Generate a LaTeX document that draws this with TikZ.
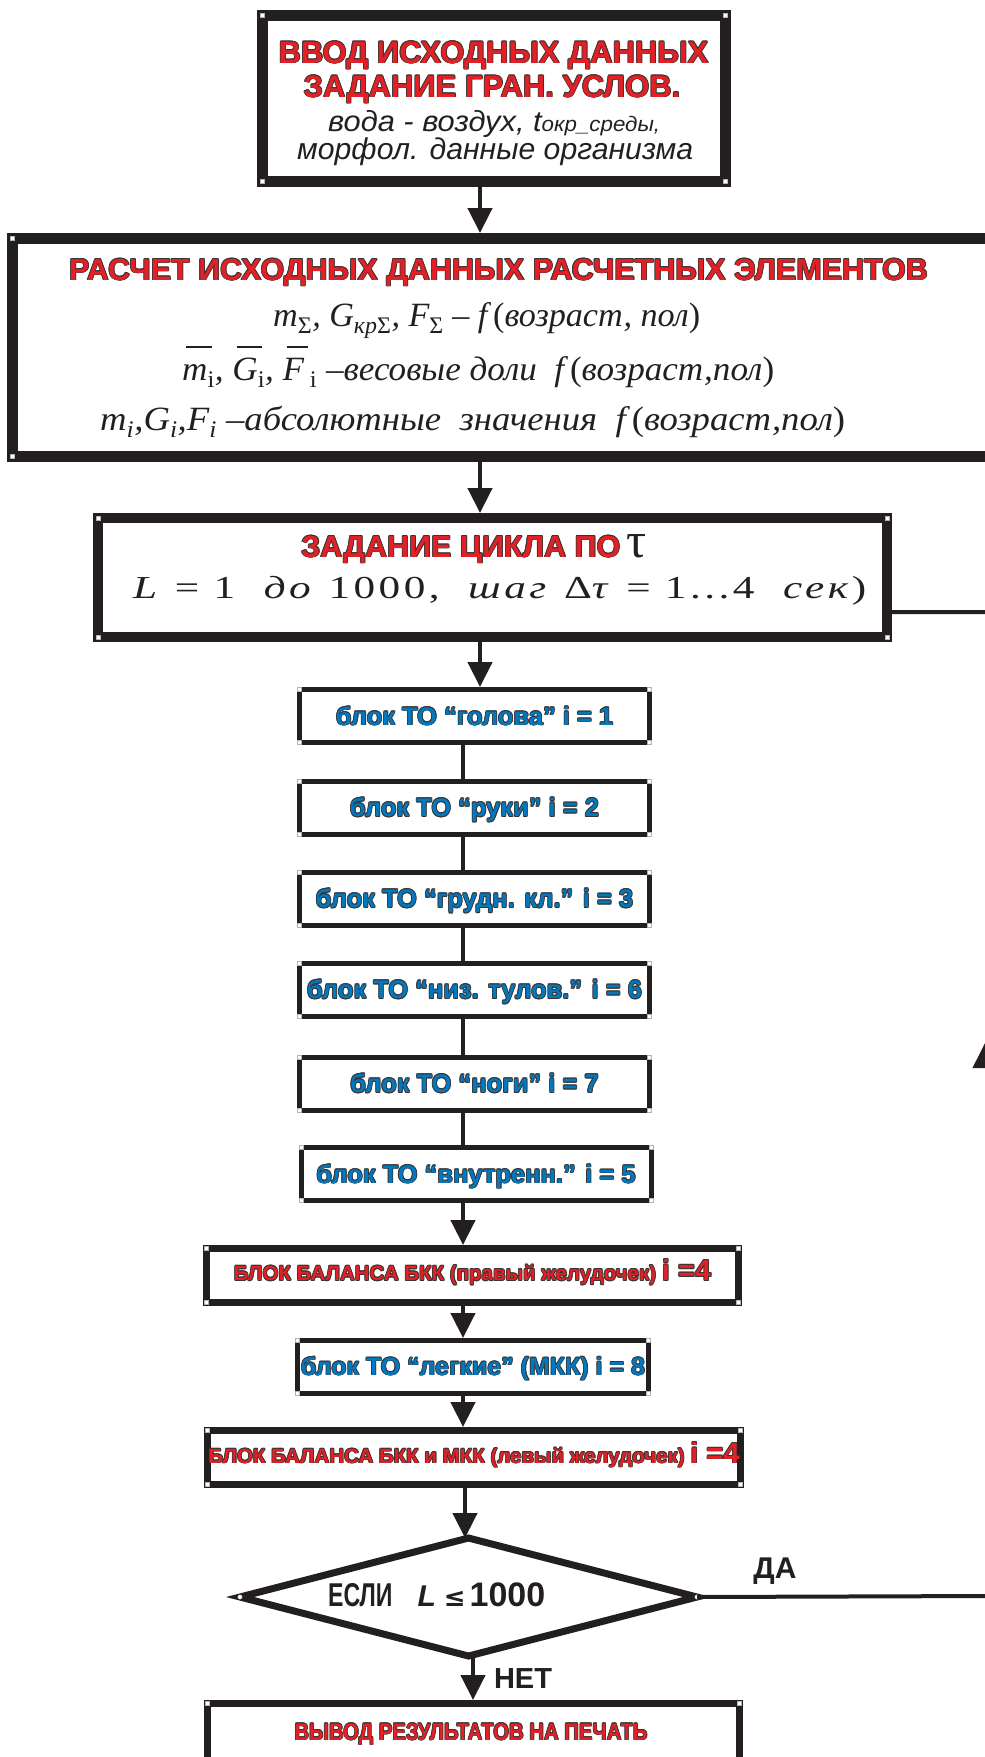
\documentclass[tikz,border=0pt]{standalone}
\usepackage{fontspec}
\usepackage{graphicx}
\setmainfont{Liberation Sans}
\newfontfamily\timesf{Liberation Serif}
\newfontfamily\dejavu{DejaVu Sans}
\usetikzlibrary{arrows.meta,shapes.geometric,decorations.markings}

\definecolor{ink}{RGB}{35,31,32}

\newsavebox\olbox
\newsavebox\fillbox
\newsavebox\fitbox
\newsavebox\barbox
\newdimen\olw \olw=0.8pt

% font size in px (1pt = 1px here)
\newcommand\setsz[1]{\fontsize{#1}{#1}\selectfont}

% letters filled with one colour and edged with another:
% #1 edge colour (hex), #2 fill colour (hex), #3 font, #4 text
\newcommand\outl[4]{%
  \begingroup
  \sbox\olbox{#3\addfontfeatures{Color=#1}#4}%
  \sbox\fillbox{#3\addfontfeatures{Color=#2}#4}%
  \leavevmode
  \rlap{%
    \rlap{\kern\olw\copy\olbox}%
    \rlap{\kern-\olw\copy\olbox}%
    \rlap{\raise\olw\copy\olbox}%
    \rlap{\lower\olw\copy\olbox}%
    \rlap{\kern.7\olw\raise.7\olw\copy\olbox}%
    \rlap{\kern.7\olw\lower.7\olw\copy\olbox}%
    \rlap{\kern-.7\olw\raise.7\olw\copy\olbox}%
    \rlap{\kern-.7\olw\lower.7\olw\copy\olbox}}%
  \usebox\fillbox
  \endgroup}
\newcommand\redtxt[2]{\outl{3A3434}{E22026}{#1}{#2}}
\newcommand\bluetxt[2]{\outl{3A3434}{0079C1}{#1}{#2}}

% stretch a line horizontally to a given width (in pt)
\newcommand\fitto[2]{%
  \sbox\fitbox{#2}%
  \pgfmathsetmacro\fitratio{#1/\the\wd\fitbox}%
  \scalebox{\fitratio}[1]{\usebox\fitbox}}

% letter with a raised bar
\newcommand\ovl[1]{%
  \sbox\barbox{#1}%
  \leavevmode
  \rlap{\kern0.12em\raise0.95em\hbox{\vrule width\wd\barbox height 1.3pt depth 0pt}}%
  \usebox\barbox}

% small white corner marks of a box
\newcommand\handles[2]{%
  \foreach \an/\sx/\sy in {north west/1/1,north east/-1/1,south west/1/-1,south east/-1/-1}{%
    \filldraw[fill=white,draw=gray!60,line width=0.4pt]
      ([shift={(\sx*#2,\sy*#2)}]#1.\an) ++(-2,-2) rectangle ++(4,4);}}

\begin{document}
\begin{tikzpicture}[x=1pt,y=-1pt,
  bigbox/.style={draw=ink, line width=11pt, inner sep=0pt},
  midbox/.style={draw=ink, line width=7pt, inner sep=0pt},
  smallbox/.style={draw=ink, line width=5pt, inner sep=0pt,
    minimum width=350pt, minimum height=53pt,
    text height=22pt, text depth=4pt},
  decision/.style={diamond, draw=ink, line width=7pt, aspect=3.87,
    minimum width=457pt, minimum height=118pt, inner sep=0pt, outer sep=0pt},
  txt/.style={anchor=base, inner sep=0pt, text=ink},
  txtw/.style={anchor=base west, inner sep=0pt, text=ink},
  conn/.style={draw=ink, line width=4.5pt},
  arr/.style={conn, -{Triangle[width=24pt,length=25pt]}},
  blk/.style={font=\setsz{25.5}\bfseries}
]
\useasboundingbox (0,0) rectangle (985,1757);
\clip (0,0) rectangle (985,1757);

% column positions of the connectors
\coordinate (cA) at (480,0);
\coordinate (cB) at (463,0);
\coordinate (cD) at (465,0);
\coordinate (cE) at (473,0);

% ---- input data
\node[bigbox, minimum width=463pt, minimum height=166pt] (input) at (494,98.5) {};
\node[txt] (inputA) at (493.5,63) {\redtxt{\setsz{31}\bfseries}{ВВОД ИСХОДНЫХ ДАННЫХ}};
\node[txt] (inputB) at (492,97) {\redtxt{\setsz{31}\bfseries}{ЗАДАНИЕ ГРАН. УСЛОВ.}};
\node[txtw] (inputC) at (328,131) {\fitto{332}{\setsz{29}\itshape вода - воздух, t{\setsz{21}окр\_среды,}}};
\node[txtw] (inputD) at (297,159) {\fitto{396}{\setsz{30}\itshape морфол. данные организма}};
\handles{input}{5.5}

% ---- element data
\node[bigbox, minimum width=985pt, minimum height=218pt] (calc) at (505,347.5) {};
\node[txt] (calcT) at (498.5,280) {\redtxt{\setsz{30.5}\bfseries}{РАСЧЕТ ИСХОДНЫХ ДАННЫХ РАСЧЕТНЫХ ЭЛЕМЕНТОВ}};
\node[txtw] (calcA) at (273,326) {\fitto{427}{\timesf\itshape\setsz{34}m\textsubscript{\upshape Σ}, G\textsubscript{кр\upshape Σ}, F\textsubscript{\upshape Σ} – f\,{\upshape(}возраст, пол{\upshape)}}};
\node[txtw] (calcB) at (182,380) {\fitto{592}{\timesf\itshape\setsz{34}\ovl{m}\textsubscript{\upshape i}, \ovl{G}\textsubscript{\upshape i}, \ovl{F}\,\textsubscript{\upshape i} –весовые доли\ \ f\,{\upshape(}возраст,пол{\upshape)}}};
\node[txtw] (calcC) at (100,430) {\fitto{745}{\timesf\itshape\setsz{34}m\textsubscript{i},G\textsubscript{i},F\textsubscript{i} –абсолютные\ \ значения\ \ f\,{\upshape(}возраст,пол{\upshape)}}};
\handles{calc}{5.5}

% ---- time loop
\node[bigbox, line width=10pt, minimum width=789pt, minimum height=119pt] (loop) at (492.5,577.5) {};
\node[txtw] (loopT) at (301,557) {\redtxt{\setsz{30.5}\bfseries}{ЗАДАНИЕ ЦИКЛА ПО}\hspace{6pt}{\timesf\setsz{50}τ}};
\node[txtw] (loopF) at (133,598) {\fitto{733}{\timesf\setsz{32}\addfontfeatures{LetterSpace=8}\textit{L} = 1 \ \textit{до} 1000, \ \textit{шаг} Δ\textit{τ} = 1...4 \ \textit{сек})}};
\handles{loop}{5}

% ---- body segment blocks
\node[smallbox, blk] (b1) at (474.5,716)    {\bluetxt{\setsz{25.5}\bfseries}{блок ТО “голова” i = 1}};
\node[smallbox, blk] (b2) at (474.5,807.5)  {\bluetxt{\setsz{25.5}\bfseries}{блок ТО “руки” i = 2}};
\node[smallbox, blk] (b3) at (474.5,898.5)  {\bluetxt{\setsz{25.5}\bfseries}{блок ТО “грудн. кл.” i = 3}};
\node[smallbox, blk] (b6) at (474.5,989.5)  {\bluetxt{\setsz{25.5}\bfseries}{блок ТО “низ. тулов.” i = 6}};
\node[smallbox, blk] (b7) at (474.5,1083.5) {\bluetxt{\setsz{25.5}\bfseries}{блок ТО “ноги” i = 7}};
\node[smallbox, blk] (b5) at (476,1174)     {\bluetxt{\setsz{25.5}\bfseries}{блок ТО “внутренн.” i = 5}};
\foreach \n in {b1,b2,b3,b6,b7,b5}{\handles{\n}{2.5}}

% ---- balance blocks
\node[midbox, minimum width=532pt, minimum height=54pt, text height=15pt, text depth=5pt] (rv) at (472.5,1275.5)
  {\redtxt{\setsz{20.5}\bfseries}{БЛОК БАЛАНСА БКК (правый желудочек) {\setsz{29}i =4}}};
\node[smallbox, minimum width=351pt, minimum height=53pt, text height=20pt, text depth=4pt] (lung) at (473,1367)
  {\bluetxt{\setsz{25}\bfseries}{блок ТО “легкие” (МКК) i = 8}};
\node[midbox, minimum width=533pt, minimum height=54pt, text height=15pt, text depth=4pt] (lv) at (474,1457.5)
  {\redtxt{\setsz{20.5}\bfseries}{БЛОК БАЛАНСА БКК и МКК (левый желудочек) {\setsz{29}i =4}}};
\handles{rv}{3.5}
\handles{lung}{2.5}
\handles{lv}{3.5}

% ---- condition
\node[decision] (dec) at (468.5,1597) {};
\node[txtw] (decT) at (328,1606) {\setsz{33}\bfseries\scalebox{0.7}[1]{ЕСЛИ}\hspace{25pt}{\setsz{30}\textit{L}}\hspace{8pt}{\dejavu\bfseries\setsz{26}≤}\hspace{4pt}{\setsz{34}1000}};
\foreach \an in {west,east}{\filldraw[fill=white,draw=gray!60,line width=0.4pt] (dec.\an) circle (2.2);}
\node[txt] (yes) at (775,1578) {\setsz{30}\bfseries ДА};
\node[txt] (no) at (523,1688) {\setsz{29}\bfseries НЕТ};

% ---- output
\node[midbox, minimum width=532pt, minimum height=93pt] (out) at (473.5,1750) {};
\node[txt] (outT) at (471,1740) {\fitto{353}{\redtxt{\setsz{24}\bfseries}{ВЫВОД РЕЗУЛЬТАТОВ НА ПЕЧАТЬ}}};
\handles{out}{3.5}

% ---- connectors
\draw[arr] (input.south -| cA) -- (calc.north -| cA);
\draw[arr] (calc.south -| cA) -- (loop.north -| cA);
\draw[arr] (loop.south -| cA) -- (b1.north -| cA);
\draw[conn] (b1.south -| cB) -- (b2.north -| cB);
\draw[conn] (b2.south -| cB) -- (b3.north -| cB);
\draw[conn] (b3.south -| cB) -- (b6.north -| cB);
\draw[conn] (b6.south -| cB) -- (b7.north -| cB);
\draw[conn] (b7.south -| cB) -- (b5.north -| cB);
\draw[arr] (b5.south -| cB) -- (rv.north -| cB);
\draw[arr] (rv.south -| cB) -- (lung.north -| cB);
\draw[arr] (lung.south -| cB) -- (lv.north -| cB);
\draw[arr] (lv.south -| cD) -- (dec.north -| cD);
\draw[arr] (dec.south -| cE) -- (out.north -| cE);

% ---- return to the loop head
\coordinate (r1) at (988,1596);
\coordinate (r2) at (988,612);
\draw[conn, line width=4pt, postaction={decorate, decoration={markings,
    mark=at position -521pt with {\arrow{Triangle[width=30pt,length=31pt]}}}}]
  (dec.east) -- (r1) -- (r2) -- (r2 -| loop.east);
\end{tikzpicture}
\end{document}
